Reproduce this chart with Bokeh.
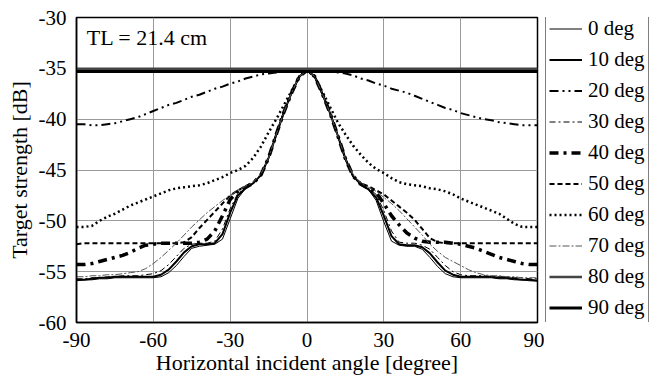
from bokeh.plotting import figure
from bokeh.models import Legend, LegendItem, Label, FixedTicker
from bokeh.layouts import row
from bokeh.embed import file_html
from bokeh.resources import INLINE

# ---------------- data ----------------
angle = list(range(-90, 91, 3))
edge_angle = [-90, 90]

x_ticks = [-90, -60, -30, 0, 30, 60, 90]
y_ticks = [-60, -55, -50, -45, -40, -35, -30]

ts_0 = [-55.9, -55.8, -55.8, -55.7, -55.7, -55.6, -55.6, -55.6, -55.6, -55.6, -55.6, -55.5, -55.1, -54.4, -53.5, -52.7,
        -52.5, -52.4, -52.3, -51.8, -49.8, -47.8, -46.8, -46.3, -45.5, -43.8, -41.5, -39.3, -37.4, -35.8, -35.2,
        -35.8, -37.5, -39.4, -41.6, -43.9, -45.6, -46.4, -46.9, -48.0, -50.1, -52.0, -52.4, -52.5, -52.5, -52.8,
        -53.6, -54.5, -55.2, -55.5, -55.6, -55.6, -55.6, -55.6, -55.6, -55.7, -55.7, -55.8, -55.8, -55.9, -55.9]
ts_10 = [-55.8, -55.8, -55.7, -55.6, -55.6, -55.5, -55.5, -55.5, -55.5, -55.5, -55.5, -55.3, -54.8, -54.0, -53.1, -52.5,
         -52.3, -52.3, -52.2, -51.3, -49.2, -47.5, -46.8, -46.3, -45.5, -43.8, -41.5, -39.3, -37.4, -35.8, -35.2,
         -35.8, -37.5, -39.4, -41.6, -43.9, -45.6, -46.4, -46.9, -47.7, -49.5, -51.5, -52.3, -52.4, -52.4, -52.6,
         -53.2, -54.1, -54.9, -55.3, -55.5, -55.5, -55.5, -55.5, -55.5, -55.6, -55.6, -55.7, -55.8, -55.8, -55.9]
ts_20 = [-40.5, -40.5, -40.6, -40.6, -40.5, -40.4, -40.2, -40.0, -39.8, -39.5, -39.2, -38.9, -38.6, -38.4, -38.1, -37.8,
         -37.6, -37.3, -37.0, -36.8, -36.5, -36.3, -36.0, -35.8, -35.6, -35.5, -35.4, -35.3, -35.2, -35.2, -35.2,
         -35.2, -35.3, -35.3, -35.4, -35.5, -35.7, -36.0, -36.2, -36.5, -36.7, -37.0, -37.2, -37.4, -37.7, -38.0,
         -38.3, -38.6, -38.9, -39.1, -39.4, -39.6, -39.8, -40.0, -40.1, -40.3, -40.4, -40.5, -40.6, -40.6, -40.6]
ts_30 = [-55.7, -55.7, -55.6, -55.6, -55.5, -55.5, -55.4, -55.4, -55.4, -55.3, -55.2, -54.9, -54.3, -53.5, -52.7, -52.3,
         -52.2, -52.2, -52.0, -50.8, -48.8, -47.3, -46.7, -46.3, -45.5, -43.8, -41.5, -39.3, -37.4, -35.8, -35.2,
         -35.8, -37.5, -39.4, -41.6, -43.9, -45.6, -46.4, -46.8, -47.4, -49.0, -51.0, -52.1, -52.2, -52.2, -52.4,
         -52.8, -53.6, -54.4, -55.0, -55.3, -55.4, -55.4, -55.4, -55.5, -55.5, -55.5, -55.6, -55.6, -55.7, -55.7]
ts_40 = [-54.3, -54.3, -54.2, -54.0, -53.8, -53.6, -53.4, -53.1, -52.7, -52.4, -52.3, -52.2, -52.2, -52.2, -52.2, -52.2,
         -52.1, -51.8, -51.0, -49.5, -47.9, -47.1, -46.7, -46.3, -45.5, -43.8, -41.5, -39.3, -37.4, -35.8, -35.2,
         -35.8, -37.5, -39.4, -41.6, -43.9, -45.6, -46.4, -46.8, -47.2, -48.3, -49.5, -50.4, -51.2, -51.7, -52.0,
         -52.1, -52.1, -52.1, -52.2, -52.3, -52.5, -52.7, -53.0, -53.3, -53.6, -53.8, -54.0, -54.2, -54.3, -54.3]
ts_50 = [-52.3, -52.2, -52.2, -52.2, -52.2, -52.2, -52.2, -52.2, -52.2, -52.2, -52.2, -52.2, -52.2, -52.2, -52.1, -51.6,
         -50.7, -49.9, -49.1, -48.3, -47.5, -47.0, -46.6, -46.2, -45.5, -43.8, -41.5, -39.3, -37.4, -35.8, -35.2,
         -35.8, -37.5, -39.4, -41.6, -43.9, -45.6, -46.3, -46.6, -47.0, -47.4, -48.0, -48.6, -49.2, -49.9, -50.8,
         -51.7, -52.1, -52.2, -52.2, -52.2, -52.2, -52.2, -52.2, -52.2, -52.2, -52.2, -52.2, -52.2, -52.2, -52.2]
ts_60 = [-50.6, -50.6, -50.5, -50.0, -49.6, -49.3, -48.9, -48.5, -48.2, -47.9, -47.6, -47.3, -47.0, -46.8, -46.7, -46.6,
         -46.5, -46.3, -46.0, -45.7, -45.3, -45.0, -44.6, -43.8, -42.7, -41.3, -40.0, -38.6, -37.2, -35.8, -35.2,
         -35.8, -37.3, -38.8, -40.3, -41.5, -42.6, -43.5, -44.3, -44.9, -45.3, -45.8, -46.2, -46.4, -46.5, -46.6,
         -46.8, -46.9, -47.1, -47.4, -47.8, -48.1, -48.4, -48.7, -49.0, -49.3, -49.8, -50.3, -50.6, -50.6, -50.6]
ts_70 = [-55.5, -55.5, -55.4, -55.4, -55.3, -55.3, -55.2, -55.1, -55.0, -54.7, -54.2, -53.6, -52.9, -52.2, -51.4, -50.6,
         -49.9, -49.2, -48.6, -48.0, -47.5, -47.0, -46.6, -46.2, -45.4, -43.8, -41.5, -39.3, -37.4, -35.8, -35.2,
         -35.8, -37.5, -39.4, -41.6, -43.9, -45.5, -46.3, -46.7, -47.1, -47.7, -48.3, -49.0, -49.8, -50.6, -51.4,
         -52.3, -53.0, -53.6, -54.0, -54.4, -54.8, -55.1, -55.3, -55.4, -55.4, -55.5, -55.5, -55.6, -55.6, -55.6]
ts_80 = [-35.05, -35.05]
ts_90 = [-35.3, -35.3]

labels = ["0 deg", "10 deg", "20 deg", "30 deg", "40 deg", "50 deg", "60 deg", "70 deg", "80 deg", "90 deg"]

# ---------------- main figure ----------------
FONT = "Liberation Serif"
p = figure(width=544, height=378, output_backend="svg", toolbar_location=None,
           x_range=(-90, 90), y_range=(-60, -30),
           min_border_left=76, min_border_right=7, min_border_top=17, min_border_bottom=56)
p.background_fill_color = "white"
p.border_fill_color = "white"
p.outline_line_color = "black"
p.outline_line_width = 1.5

p.xaxis.ticker = FixedTicker(ticks=x_ticks)
p.yaxis.ticker = FixedTicker(ticks=y_ticks)
p.xaxis.major_label_overrides = {t: str(t) for t in x_ticks}
p.yaxis.major_label_overrides = {t: str(t) for t in y_ticks}
for ax in (p.xaxis, p.yaxis):
    ax.major_tick_line_color = None
    ax.minor_tick_line_color = None
    ax.axis_line_color = "black"
    ax.axis_line_width = 1.5
    ax.major_label_text_font = FONT
    ax.major_label_text_font_size = "21px"
    ax.major_label_text_color = "black"
    ax.axis_label_text_font = FONT
    ax.axis_label_text_font_size = "22px"
    ax.axis_label_text_font_style = "normal"
    ax.axis_label_text_color = "black"
p.xaxis.axis_label = "Horizontal incident angle [degree]"
p.yaxis.axis_label = "Target strength [dB]"
p.xaxis.major_label_standoff = 4
p.yaxis.major_label_standoff = 4
p.xaxis.axis_label_standoff = 0
p.yaxis.axis_label_standoff = 4

p.xgrid.grid_line_color = "#9a9a9a"
p.ygrid.grid_line_color = "#9a9a9a"
p.xgrid.grid_line_width = 1
p.ygrid.grid_line_width = 1

styles = [
    (angle, ts_0, "black", 1.0, "solid"),
    (angle, ts_10, "black", 2.0, "solid"),
    (angle, ts_20, "black", 2.0, "9 4 2 4 2 4"),
    (angle, ts_30, "black", 1.0, "6 3 2 3"),
    (angle, ts_40, "black", 3.5, "9 5 3 5"),
    (angle, ts_50, "black", 2.0, "5 3"),
    (angle, ts_60, "black", 2.5, "2 3"),
    (angle, ts_70, "#555555", 1.0, "7 2 2 2"),
    (edge_angle, ts_80, "#444444", 2.5, "solid"),
    (edge_angle, ts_90, "black", 3.0, "solid"),
]

for xs, ys, col, w, dash in styles:
    p.line(xs, ys, line_color=col, line_width=w, line_dash=dash)

p.add_layout(Label(x=-86, y=-32.0, text="TL = 21.4 cm", text_font=FONT, text_font_size="22px",
                   text_baseline="middle", text_color="black"))

# ---------------- legend panel ----------------
q = figure(width=109, height=378, output_backend="svg", toolbar_location=None,
           x_range=(1000, 1001), y_range=(1000, 1001), x_axis_type=None, y_axis_type=None,
           min_border=0)
q.outline_line_color = None
q.xgrid.visible = False
q.ygrid.visible = False
q.background_fill_color = "white"
q.border_fill_color = "white"

items = []
for (xs, ys, col, w, dash), lab in zip(styles, labels):
    r = q.line(xs, ys, line_color=col, line_width=w, line_dash=dash)
    items.append(LegendItem(label=lab, renderers=[r]))

legend = Legend(items=items, location=(1, -2))
legend.label_text_font = FONT
legend.label_text_font_size = "21px"
legend.label_text_color = "black"
legend.glyph_width = 33
legend.glyph_height = 25
legend.label_height = 25
legend.label_standoff = 6
legend.spacing = 6
legend.padding = 3
legend.margin = 0
legend.border_line_color = "black"
legend.border_line_width = 1.5
legend.background_fill_color = "white"
legend.background_fill_alpha = 1.0
q.add_layout(legend)

layout = row(p, q, spacing=0)
open("out.html", "w").write(file_html(layout, INLINE))
